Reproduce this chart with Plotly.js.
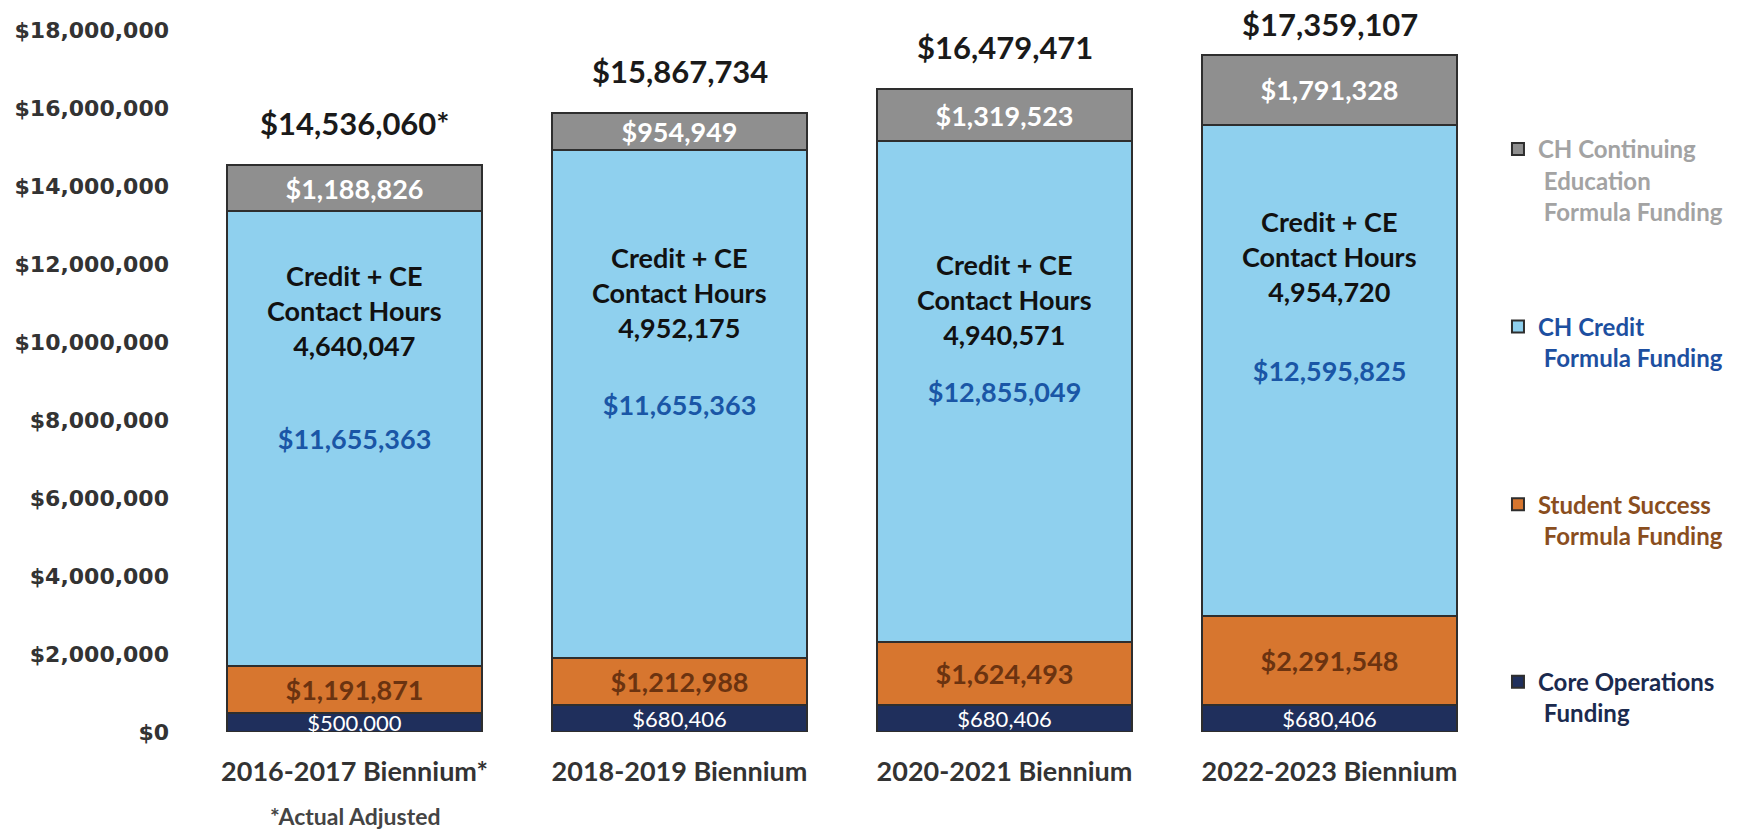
<!DOCTYPE html>
<html>
<head>
<meta charset="utf-8">
<script src="https://cdn.plot.ly/plotly-3.0.1.min.js"></script>
<style>html,body{margin:0;padding:0;background:#fff;}#chart{width:1740px;height:832px;}</style>
</head>
<body>
<div id="chart"></div>
<script>
// ---- data ----
const categories = ['2016-2017 Biennium*', '2018-2019 Biennium', '2020-2021 Biennium', '2022-2023 Biennium'];
const coreOps = [500000, 680406, 680406, 680406];
const studentSuccess = [1191871, 1212988, 1624493, 2291548];
// bar height of CH credit segment (2018-2019 height follows its total; its printed label repeats $11,655,363)
const chCredit = [11655363, 13019391, 12855049, 12595825];
const chCreditLabels = ['$11,655,363', '$11,655,363', '$12,855,049', '$12,595,825'];
const chCE = [1188826, 954949, 1319523, 1791328];
const totals = [14536060, 15867734, 16479471, 17359107];
const totalLabels = ['$14,536,060*', '$15,867,734', '$16,479,471', '$17,359,107'];
const contactHours = [4640047, 4952175, 4940571, 4954720];
const yTickVals = [0, 2000000, 4000000, 6000000, 8000000, 10000000, 12000000, 14000000, 16000000, 18000000];

const fmt = v => v.toLocaleString('en-US');
const money = v => '$' + fmt(v);

const FONT = 'Lato, "Open Sans", sans-serif';
const outline = {color: '#2e2e2e', width: 2};
const PAD = '<br>\u00a0'; // keeps every legend entry three lines tall so entries are evenly spaced

const traces = [
  {
    type: 'bar', name: '<span style="color:#1b2a4e">Core Operations<br> Funding</span>' + PAD,
    x: categories, y: coreOps, text: coreOps.map(money),
    marker: {color: '#1f2f5c', line: outline},
    textposition: 'inside', insidetextanchor: 'middle', constraintext: 'none',
    textfont: {family: FONT, size: 22, color: '#ffffff'},
    legendgroup: 'd', legendrank: 4, hoverinfo: 'skip'
  },
  {
    type: 'bar', name: '<span style="color:#8a4e1e">Student Success<br> Formula Funding</span>' + PAD,
    x: categories, y: studentSuccess, text: studentSuccess.map(money),
    marker: {color: '#d7762f', line: outline},
    textposition: 'inside', insidetextanchor: 'middle', constraintext: 'none',
    textfont: {family: FONT, size: 27, color: '#6b3310', weight: 'bold'},
    legendgroup: 'c', legendrank: 3, hoverinfo: 'skip'
  },
  {
    type: 'bar', name: '<span style="color:#1d4fa0">CH Credit<br> Formula Funding</span>' + PAD,
    x: categories, y: chCredit, text: chCreditLabels,
    marker: {color: '#8fd0ee', line: outline},
    textposition: 'inside', insidetextanchor: 'middle', constraintext: 'none',
    textfont: {family: FONT, size: 27, color: '#1a56a6', weight: 'bold'},
    legendgroup: 'b', legendrank: 2, hoverinfo: 'skip'
  },
  {
    type: 'bar', name: '<span style="color:#a3a3a3">CH Continuing<br> Education<br> Formula Funding</span>',
    x: categories, y: chCE, text: chCE.map(money),
    marker: {color: '#8f8f8f', line: outline},
    textposition: 'inside', insidetextanchor: 'middle', constraintext: 'none',
    textfont: {family: FONT, size: 27, color: '#ffffff', weight: 'bold'},
    legendgroup: 'a', legendrank: 1, hoverinfo: 'skip'
  }
];

const M = {l: 192, r: 240, t: 30, b: 100};
const H = 832;
const YMAX = 18000000;
const plotH = H - M.t - M.b;

const annotations = [];
categories.forEach((c, i) => {
  // keep the label inside the page: offset shrinks when the bar top is close to the edge
  const topPx = M.t + (YMAX - totals[i]) / YMAX * plotH;
  const shift = Math.min(42, topPx - 24);
  annotations.push({
    x: c, y: totals[i], xref: 'x', yref: 'y', text: totalLabels[i],
    showarrow: false, yanchor: 'middle', yshift: shift,
    font: {family: FONT, size: 31, color: '#1a1a1a', weight: 'bold'}
  });
});
const contactY = [10800000, 11260000, 11090000, 12200000];
categories.forEach((c, i) => {
  annotations.push({
    x: c, y: contactY[i], xref: 'x', yref: 'y',
    text: 'Credit + CE<br>Contact Hours<br>' + fmt(contactHours[i]),
    showarrow: false, yanchor: 'middle',
    font: {family: FONT, size: 27, color: '#111111', weight: 'bold'}
  });
});
annotations.push({
  x: categories[0], y: 0, xref: 'x', yref: 'y', text: '*Actual Adjusted',
  showarrow: false, yanchor: 'middle', yshift: -84,
  font: {family: FONT, size: 23, color: '#444444', weight: 'bold'}
});

const layout = {
  width: 1740, height: H,
  margin: M,
  paper_bgcolor: '#ffffff', plot_bgcolor: '#ffffff',
  barmode: 'stack', bargap: 0.214,
  showlegend: true,
  legend: {
    x: 1.0046, y: 0.862, xanchor: 'left', yanchor: 'top',
    traceorder: 'grouped', tracegroupgap: 81, valign: 'top',
    font: {family: FONT, size: 24, weight: 'bold'},
    itemwidth: 30, bgcolor: 'rgba(0,0,0,0)'
  },
  xaxis: {
    type: 'category', range: [-0.5, 3.5], showgrid: false, zeroline: false, showline: false,
    ticks: '', ticklabelstandoff: 21,
    tickfont: {family: FONT, size: 27, color: '#333333', weight: 'bold'}
  },
  yaxis: {
    range: [0, YMAX], tickvals: yTickVals, ticktext: yTickVals.map(money),
    showgrid: false, zeroline: false, showline: false, ticks: '',
    ticklabelstandoff: 22,
    tickfont: {family: '"DejaVu Sans", sans-serif', size: 22, color: '#333333', weight: 'bold'}
  },
  annotations: annotations,
  font: {family: FONT}
};

Plotly.newPlot('chart', traces, layout, {displayModeBar: false, staticPlot: true});
</script>
</body>
</html>
